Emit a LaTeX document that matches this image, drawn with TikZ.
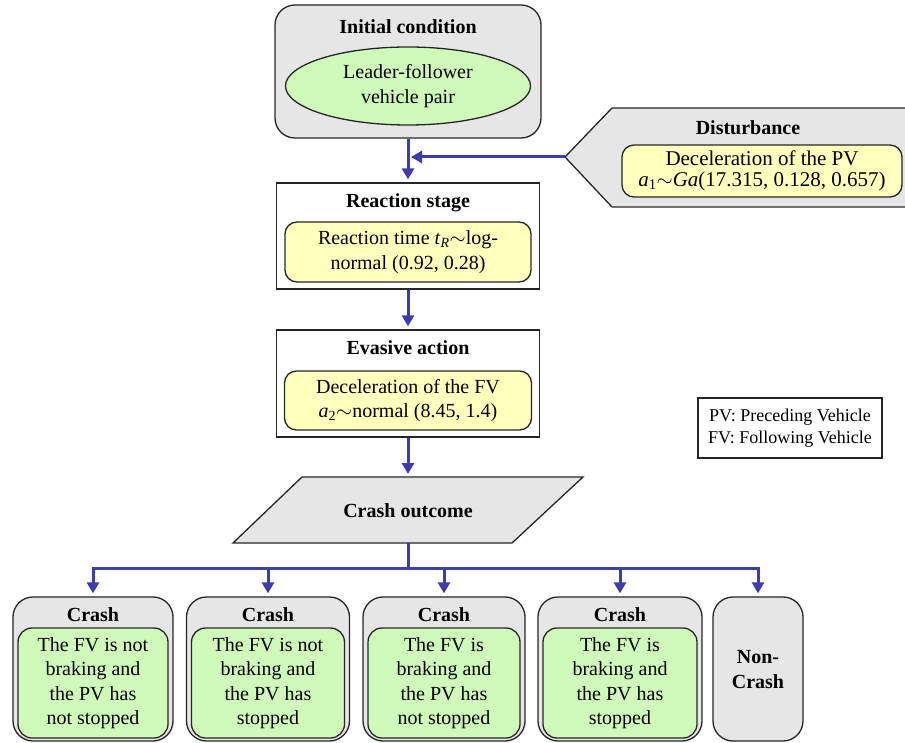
\documentclass[tikz,border=0pt]{standalone}
\usepackage{fontspec}
\setmainfont{Liberation Serif}
\usetikzlibrary{arrows.meta,shapes.geometric}
\definecolor{boxgray}{RGB}{230,230,230}
\definecolor{lgreen}{RGB}{208,250,185}
\definecolor{lyellow}{RGB}{255,255,190}
\definecolor{flowblue}{RGB}{60,60,170}
\begin{document}
\begin{tikzpicture}[x=1pt,y=-1pt,
  txt/.style={font=\fontsize{20}{24.5}\selectfont, align=center, inner sep=0pt},
  ttl/.style={font=\fontsize{20}{24}\selectfont\bfseries, align=center, inner sep=0pt},
  outline/.style={draw=black!85, line width=1.3pt},
  graybox/.style={outline, fill=boxgray, rounded corners=20pt, inner sep=0pt},
  whitebox/.style={outline, fill=white, inner sep=0pt},
  yellowbox/.style={outline, fill=lyellow, rounded corners=12pt, inner sep=0pt},
  greenbox/.style={outline, fill=lgreen, rounded corners=14pt, inner sep=0pt},
  flowline/.style={draw=flowblue, line width=3pt},
  flow/.style={flowline, -{Triangle[length=11pt,width=12pt]}, shorten >=3pt},
]
\useasboundingbox (0,0) rectangle (905,743);

% Initial condition
\node[graybox, minimum width=266pt, minimum height=133pt] (init) at (408,71.5) {};
\node[ttl] (initT) at (408,27) {Initial condition};
\node[ellipse, outline, fill=lgreen, minimum width=245pt, minimum height=78pt, txt] (pair) at (408,86) {Leader-follower\\vehicle pair};

% Disturbance
\coordinate (dtip) at (565,157);
\fill[boxgray] (dtip) -- (612,108) -- (905,108) -- (905,207) -- (612,207) -- cycle;
\draw[outline] (905,108) -- (612,108) -- (dtip) -- (612,207) -- (905,207);
\node[ttl] (distT) at (748,128) {Disturbance};
\node[yellowbox, minimum width=280pt, minimum height=52pt] (distB) at (762,171) {};
\node[txt, font=\fontsize{21}{21}\selectfont] (distL) at (distB) {Deceleration of the PV\\\textit{a}\textsubscript{1}$\sim$\textit{Ga}(17.315, 0.128, 0.657)};

% Reaction stage
\node[whitebox, minimum width=263pt, minimum height=106pt] (react) at (408,236) {};
\node[ttl] (reactT) at (408,203) {Reaction stage};
\node[yellowbox, minimum width=246pt, minimum height=60pt] (reactB) at (408,252) {};
\node[txt] (reactL) at (reactB) {Reaction time \textit{t}\textsubscript{\textit{R}}$\sim$log-\\normal (0.92, 0.28)};

% Evasive action
\node[whitebox, minimum width=263pt, minimum height=107pt] (evas) at (408,383.5) {};
\node[ttl] (evasT) at (408,348) {Evasive action};
\node[yellowbox, minimum width=247pt, minimum height=59pt] (evasB) at (408,400.5) {};
\node[txt] (evasL) at (evasB) {Deceleration of the FV\\\textit{a}\textsubscript{2}$\sim$normal (8.45, 1.4)};

% Legend
\node[outline, line width=1.1pt, fill=white, minimum width=184pt, minimum height=60pt, align=center, inner sep=0pt, font=\fontsize{18}{22}\selectfont] (legend) at (790,428) {PV: Preceding Vehicle\\FV: Following Vehicle};

% Crash outcome parallelogram
\coordinate (otop) at (408,477);
\coordinate (obot) at (408,543);
\filldraw[outline, fill=boxgray] (302,477) -- (583,477) -- (512,543) -- (233,543) -- cycle;
\node[ttl] (outcome) at (408,511) {Crash outcome};

% Bottom boxes
\node[graybox, minimum width=160pt, minimum height=144pt] (b1) at (93,669) {};
\node[graybox, minimum width=163pt, minimum height=144pt] (b2) at (268,669) {};
\node[graybox, minimum width=162pt, minimum height=144pt] (b3) at (444,669) {};
\node[graybox, minimum width=164pt, minimum height=144pt] (b4) at (620,669) {};
\node[graybox, minimum width=90pt, minimum height=144pt] (b5) at (758,669) {};

\foreach \n/\x/\w in {1/93/150,2/268/153,3/444/152,4/620/154}{
  \node[ttl] (c\n) at (\x,615) {Crash};
  \node[greenbox, minimum width=\w pt, minimum height=110pt] (g\n) at (\x,683) {};
}
\node[txt] (t1) at (g1) {The FV is not\\braking and\\the PV has\\not stopped};
\node[txt] (t2) at (g2) {The FV is not\\braking and\\the PV has\\stopped};
\node[txt] (t3) at (g3) {The FV is\\braking and\\the PV has\\not stopped};
\node[txt] (t4) at (g4) {The FV is\\braking and\\the PV has\\stopped};
\node[ttl, font=\fontsize{20}{25}\selectfont\bfseries] (t5) at (758,670) {Non-\\Crash};

% Connectors
\draw[flow] (init.south) -- (react.north);
\draw[flow] (dtip) -- (init.south |- dtip);
\draw[flow] (react.south) -- (evas.north);
\draw[flow] (evas.south) -- (otop);
\coordinate (bus) at (408,568);
\draw[flowline] (obot) -- (bus);
\foreach \b in {b1,b2,b3,b4,b5}{
  \draw[flow] (bus) -| (\b.north);
}
\end{tikzpicture}
\end{document}
